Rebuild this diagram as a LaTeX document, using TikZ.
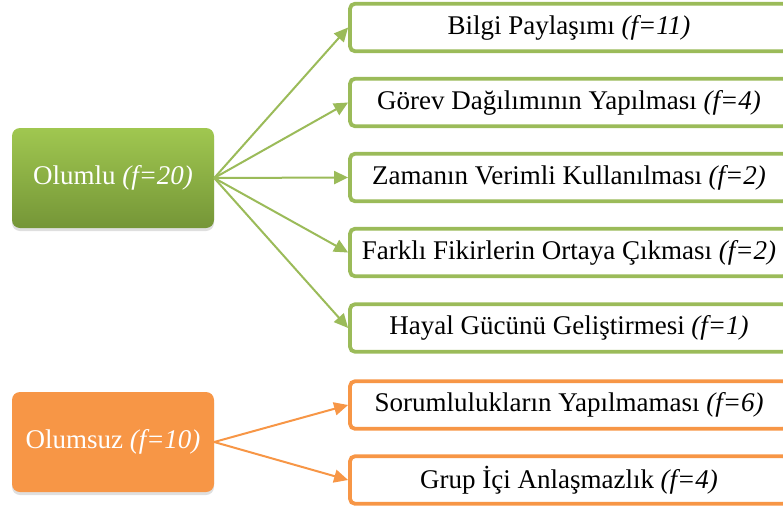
\documentclass[tikz,border=0pt]{standalone}
\usepackage{fontspec}
\setmainfont{Liberation Serif}
\usetikzlibrary{arrows.meta,shadows}
\definecolor{gline}{HTML}{9BBB59}
\definecolor{gtop}{HTML}{A0C750}
\definecolor{gbot}{HTML}{759637}
\definecolor{oline}{HTML}{F79646}
\tikzset{
  txt/.style={font=\fontsize{27}{31}\selectfont},
  itembox/.style={txt, draw, line width=3.8pt, rounded corners=5pt, fill=white,
    minimum width=438pt, minimum height=47.5pt, inner sep=0pt, text=black},
  gitem/.style={itembox, draw=gline},
  oitem/.style={itembox, draw=oline},
  catbox/.style={txt, rounded corners=8pt, minimum width=202pt, minimum height=100pt,
    inner sep=0pt, text=white,
    drop shadow={opacity=0.25, shadow xshift=0pt, shadow yshift=-3pt}},
  gcat/.style={catbox, top color=gtop, bottom color=gbot},
  ocat/.style={catbox, fill=oline},
  conn/.style={line width=2pt, -{Triangle[length=14pt,width=13pt]}},
  gconn/.style={conn, draw=gline, fill=gline},
  oconn/.style={conn, draw=oline, fill=oline},
}
\begin{document}
\begin{tikzpicture}[x=1pt,y=-1pt]
\useasboundingbox (0,0) rectangle (783,511);
\clip (0,0) rectangle (783,511);
\node[gcat] (pos) at (113,178) {Olumlu \textit{(f=20)}};
\node[ocat] (neg) at (113,442) {Olumsuz \textit{(f=10)}};
\node[gitem] (g1) at (569,27.5) {Bilgi Paylaşımı \textit{(f=11)}};
\node[gitem] (g2) at (569,102.5) {Görev Dağılımının Yapılması \textit{(f=4)}};
\node[gitem] (g3) at (569,177.5) {Zamanın Verimli Kullanılması \textit{(f=2)}};
\node[gitem] (g4) at (569,252.5) {Farklı Fikirlerin Ortaya Çıkması \textit{(f=2)}};
\node[gitem] (g5) at (569,328) {Hayal Gücünü Geliştirmesi \textit{(f=1)}};
\node[oitem] (o1) at (569,405) {Sorumlulukların Yapılmaması \textit{(f=6)}};
\node[oitem] (o2) at (569,480) {Grup İçi Anlaşmazlık \textit{(f=4)}};
\foreach \t in {g1,g2,g3,g4,g5} \draw[gconn] (pos.east) -- (\t.west);
\foreach \t in {o1,o2} \draw[oconn] (neg.east) -- (\t.west);
\end{tikzpicture}
\end{document}
